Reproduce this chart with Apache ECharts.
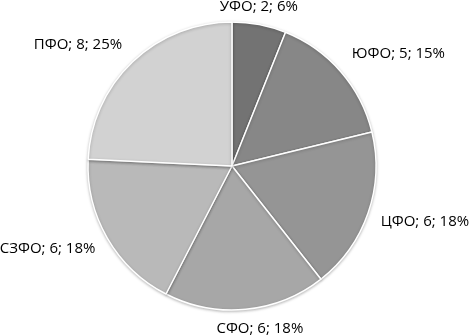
<!DOCTYPE html>
<html>
<head>
<meta charset="utf-8">
<script src="https://cdn.jsdelivr.net/npm/echarts@6/dist/echarts.min.js"></script>
<style>
  html, body { margin: 0; padding: 0; background: #fff; }
  #chart { width: 471px; height: 336px; }
</style>
</head>
<body>
<div id="chart"></div>
<script>
const districts = ["УФО", "ЮФО", "ЦФО", "СФО", "СЗФО", "ПФО"];
const counts = [2, 5, 6, 6, 6, 8];
const sliceColors = ["#737373", "#878787", "#959595", "#a7a7a7", "#b9b9b9", "#d2d2d2"];

// small label nudges to mimic Excel's label placement
const labelShift = [[-46, -10], [0, -13], [0, 6], [-35, 11], [0, 7], [0, -11]];

const chart = echarts.init(document.getElementById("chart"));

const option = {
  animation: false,
  series: [
    {
      type: "pie",
      center: [232, 166],
      radius: [0, 144],
      startAngle: 90,
      clockwise: true,
      percentPrecision: 0,
      data: districts.map((name, i) => ({
        name,
        value: counts[i],
        itemStyle: { color: sliceColors[i] }
      })),
      itemStyle: {
        borderColor: "#ffffff",
        borderWidth: 1.5,
        shadowBlur: 3,
        shadowOffsetY: 1,
        shadowColor: "rgba(0,0,0,0.25)"
      },
      label: {
        show: true,
        position: "outside",
        formatter: "{b}; {c}; {d}%",
        fontFamily: "Open Sans",
        fontSize: 15,
        color: "#000",
        overflow: "none"
      },
      labelLine: { show: false, length: 8, length2: 0 },
      labelLayout: params => ({
        dx: labelShift[params.dataIndex][0],
        dy: labelShift[params.dataIndex][1]
      }),
      emphasis: { disabled: true }
    }
  ]
};

chart.setOption(option);
</script>
</body>
</html>
